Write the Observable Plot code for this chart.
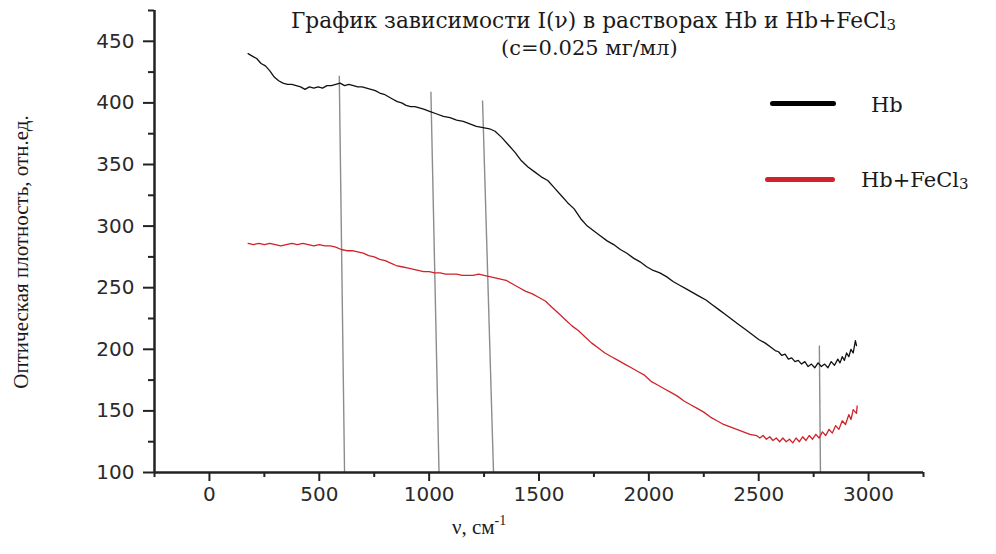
<!DOCTYPE html>
<html>
<head>
<meta charset="utf-8">
<script src="https://cdn.jsdelivr.net/npm/d3@7"></script>
<script src="https://cdn.jsdelivr.net/npm/@observablehq/plot@0.6"></script>
<style>
  html, body { margin: 0; padding: 0; background: #fff; }
  #wrap { position: relative; width: 996px; height: 554px; overflow: hidden; }
  .ov { position: absolute; white-space: nowrap; font-family: "DejaVu Serif", "Liberation Serif", serif; color: #1a1a1a; line-height: 1; }
  .leg { position: absolute; height: 5px; border-radius: 3px; }
</style>
</head>
<body>
<div id="wrap">
  <div id="chart"></div>
  <div class="ov" style="left:291px; top:10px; font-size:21.7px;">График зависимости I(ν) в растворах Hb и Hb+FeCl<span style="font-size:15px; vertical-align:-2px;">3</span></div>
  <div class="ov" style="left:501px; top:38px; font-size:21px;">(с=0.025 мг/мл)</div>
  <div class="leg" style="left:770px; top:101px; width:66px; background:#000;"></div>
  <div class="leg" style="left:765px; top:177px; width:70px; background:#d0222a;"></div>
  <div class="ov" style="left:871px; top:95px; font-size:21px;">Hb</div>
  <div class="ov" style="left:861px; top:170px; font-size:21px;">Hb+FeCl<span style="font-size:15px; vertical-align:-2px;">3</span></div>
  <div class="ov" style="left:21px; top:252px; font-size:21px; font-family:'Liberation Serif', serif; transform: translate(-50%, -50%) rotate(-90deg);">Оптическая плотность, отн.ед.</div>
  <div class="ov" style="left:452px; top:514px; font-size:21px; font-family:'Liberation Serif', serif;">ν, см<span style="font-size:14px; vertical-align:9px;">-1</span></div>
</div>
<script>
// X axis ticks (cm^-1)
const xMajor = [0, 500, 1000, 1500, 2000, 2500, 3000];
const xMinor = [-250, 250, 750, 1250, 1750, 2250, 2750, 3250];
// Y axis ticks (optical density)
const yMajor = [100, 150, 200, 250, 300, 350, 400, 450];
const yMinor = [125, 175, 225, 275, 325, 375, 425, 475];

// Hb series
const hbNu = [176,195,215,235,255,275,295,315,335,355,375,395,415,435,455,475,495,515,535,555,575,595,615,635,655,675,695,715,735,755,775,795,815,835,855,875,895,915,935,955,975,1005,1035,1065,1095,1125,1155,1185,1215,1245,1275,1300,1330,1360,1390,1420,1450,1480,1510,1540,1570,1600,1630,1660,1690,1720,1750,1780,1810,1840,1870,1900,1930,1960,1990,2020,2050,2080,2110,2140,2170,2200,2230,2260,2290,2320,2350,2380,2410,2440,2470,2500,2530,2560,2575,2590,2605,2620,2635,2650,2665,2680,2695,2710,2725,2740,2755,2770,2785,2800,2815,2830,2845,2860,2870,2880,2890,2900,2910,2920,2930,2940,2945];
const hbI  = [440,438,436,432,430,426,421,418,416,415,415,414,413,411,413,412,413,412,414,414,415,416,414,415,414,413,413,412,411,410,408,407,405,403,401,400,398,397,397,396,395,393,391,389,388,386,385,383,381,380,379,377,372,366,360,353,348,344,340,337,331,325,319,314,306,300,296,292,288,285,281,278,274,271,267,264,262,259,255,252,249,246,243,240,236,232,228,224,220,216,212,208,205,201,199,198,195,196,192,193,190,191,188,190,186,188,185,189,186,188,185,190,187,192,189,194,191,197,194,200,197,207,203];

// Hb+FeCl3 series
const feNu = [176,200,225,250,275,300,325,350,375,400,425,450,475,500,525,550,575,600,625,650,675,700,725,750,775,800,825,850,875,900,925,950,975,1000,1025,1050,1075,1100,1125,1150,1175,1200,1225,1250,1275,1300,1325,1350,1380,1410,1440,1470,1500,1530,1560,1590,1620,1650,1680,1710,1740,1770,1800,1830,1860,1890,1920,1950,1980,2010,2040,2070,2100,2130,2160,2190,2220,2250,2280,2310,2340,2370,2400,2430,2460,2490,2505,2520,2535,2550,2565,2580,2595,2610,2625,2640,2655,2670,2685,2700,2715,2730,2745,2760,2775,2790,2805,2820,2835,2850,2865,2880,2895,2910,2920,2930,2945,2948];
const feI  = [286,285,286,285,286,285,284,285,286,285,286,285,284,285,284,284,283,281,280,280,279,278,276,275,273,272,270,268,267,266,265,264,263,263,262,262,261,261,261,260,260,260,261,260,259,258,257,256,253,250,247,245,242,239,234,229,224,219,215,210,205,201,197,194,191,188,185,182,179,174,171,168,165,162,158,155,152,149,145,142,139,137,135,133,131,130,128,130,127,129,126,128,125,128,125,127,124,128,125,129,126,130,127,131,128,133,130,135,132,138,135,142,139,147,143,151,148,154];

// Vertical marker lines (slightly slanted as in the original)
const markTopNu    = [591, 1008, 1243, 2776];
const markBottomNu = [615, 1045, 1293, 2781];
const markTopI     = [422, 409, 402, 203];
const markBottomI  = [100, 100, 100, 100];

const hb = hbNu.map((x, i) => ({x, y: hbI[i]}));
const fe = feNu.map((x, i) => ({x, y: feI[i]}));
const marks = markTopNu.map((_, i) => i);

const chart = Plot.plot({
  width: 996,
  height: 554,
  marginLeft: 154,
  marginRight: 73,
  marginTop: 10,
  marginBottom: 82,
  style: { fontFamily: "'DejaVu Sans', sans-serif", background: "transparent", color: "#2a2a2a" },
  x: { domain: [-250, 3250], label: null },
  y: { domain: [100, 475], label: null },
  marks: [
    Plot.link(marks, {
      x1: i => markTopNu[i], y1: i => markTopI[i],
      x2: i => markBottomNu[i], y2: i => markBottomI[i],
      stroke: "#8c8c8c", strokeWidth: 1.4
    }),
    Plot.line(fe, { x: "x", y: "y", stroke: "#d0222a", strokeWidth: 1.3 }),
    Plot.line(hb, { x: "x", y: "y", stroke: "#111", strokeWidth: 1.3 }),
    Plot.ruleY([100], { stroke: "#222", strokeWidth: 2.5 }),
    Plot.ruleX([-250], { stroke: "#222", strokeWidth: 2.5 }),
    Plot.axisX(xMajor, { tickSize: 9, tickPadding: 5, fontSize: 20, strokeWidth: 2, stroke: "#222", label: null, tickFormat: d => String(d) }),
    Plot.axisX(xMinor, { tickSize: 5, tickFormat: () => "", strokeWidth: 2, stroke: "#222", label: null }),
    Plot.axisY(yMajor, { tickSize: 11, tickPadding: 9, fontSize: 20, strokeWidth: 2, stroke: "#222", label: null, tickFormat: d => String(d) }),
    Plot.axisY(yMinor, { tickSize: 6, tickFormat: () => "", strokeWidth: 2, stroke: "#222", label: null })
  ]
});
document.getElementById("chart").appendChild(chart);
</script>
</body>
</html>
